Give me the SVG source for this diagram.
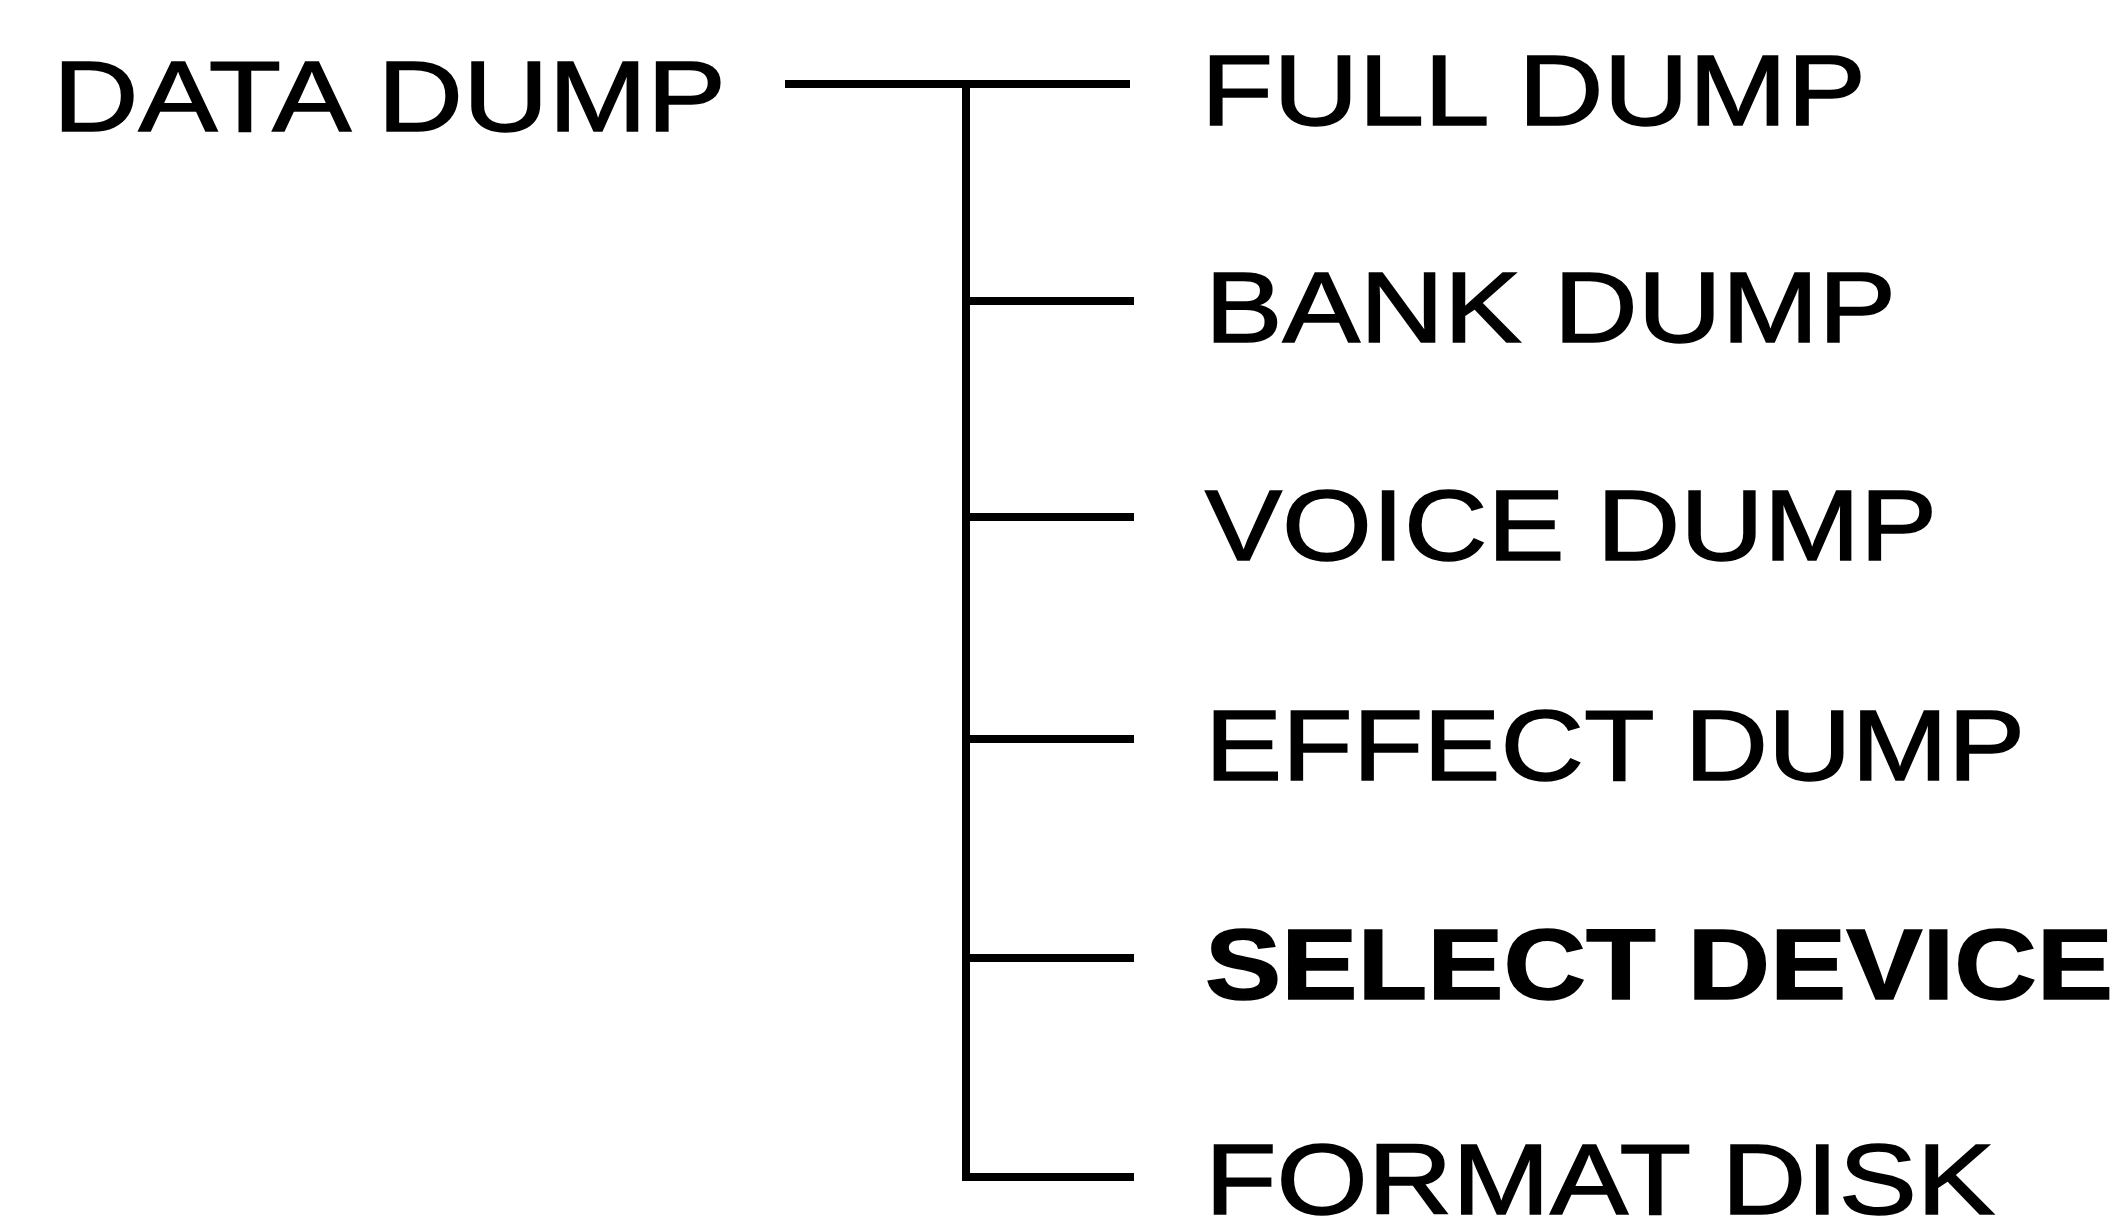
<svg xmlns="http://www.w3.org/2000/svg" width="2127" height="1224" viewBox="0 0 2127 1224">
<style>
.lbl{font-family:"Liberation Sans",Arial,sans-serif;font-size:100px;fill:#000;stroke:#000;stroke-width:1.5}
.b{font-weight:bold}
.ln{stroke:#000;stroke-width:8;fill:none;stroke-linecap:butt}
</style>
<rect width="2127" height="1224" fill="#fff"/>
<g id="connectors">
<line class="ln" x1="785" y1="84" x2="1130" y2="84"/>
<line class="ln" x1="966" y1="84" x2="966" y2="1181"/>
<line class="ln" x1="962" y1="301" x2="1134" y2="301"/>
<line class="ln" x1="962" y1="517" x2="1134" y2="517"/>
<line class="ln" x1="962" y1="739" x2="1134" y2="739"/>
<line class="ln" x1="962" y1="958" x2="1134" y2="958"/>
<line class="ln" x1="962" y1="1177" x2="1134" y2="1177"/>
</g>
<g id="data-dump"><text class="lbl" x="53" y="131" textLength="673" lengthAdjust="spacingAndGlyphs">DATA DUMP</text></g>
<g id="full-dump"><text class="lbl" x="1201" y="125" textLength="665" lengthAdjust="spacingAndGlyphs">FULL DUMP</text></g>
<g id="bank-dump"><text class="lbl" x="1205" y="342" textLength="691" lengthAdjust="spacingAndGlyphs">BANK DUMP</text></g>
<g id="voice-dump"><text class="lbl" x="1205" y="560" textLength="732" lengthAdjust="spacingAndGlyphs">VOICE DUMP</text></g>
<g id="effect-dump"><text class="lbl" x="1205" y="780" textLength="820" lengthAdjust="spacingAndGlyphs">EFFECT DUMP</text></g>
<g id="select-device"><text class="lbl b" x="1205" y="999" textLength="908" lengthAdjust="spacingAndGlyphs">SELECT DEVICE</text></g>
<g id="format-disk"><text class="lbl" x="1205" y="1214" textLength="790" lengthAdjust="spacingAndGlyphs">FORMAT DISK</text></g>
</svg>
